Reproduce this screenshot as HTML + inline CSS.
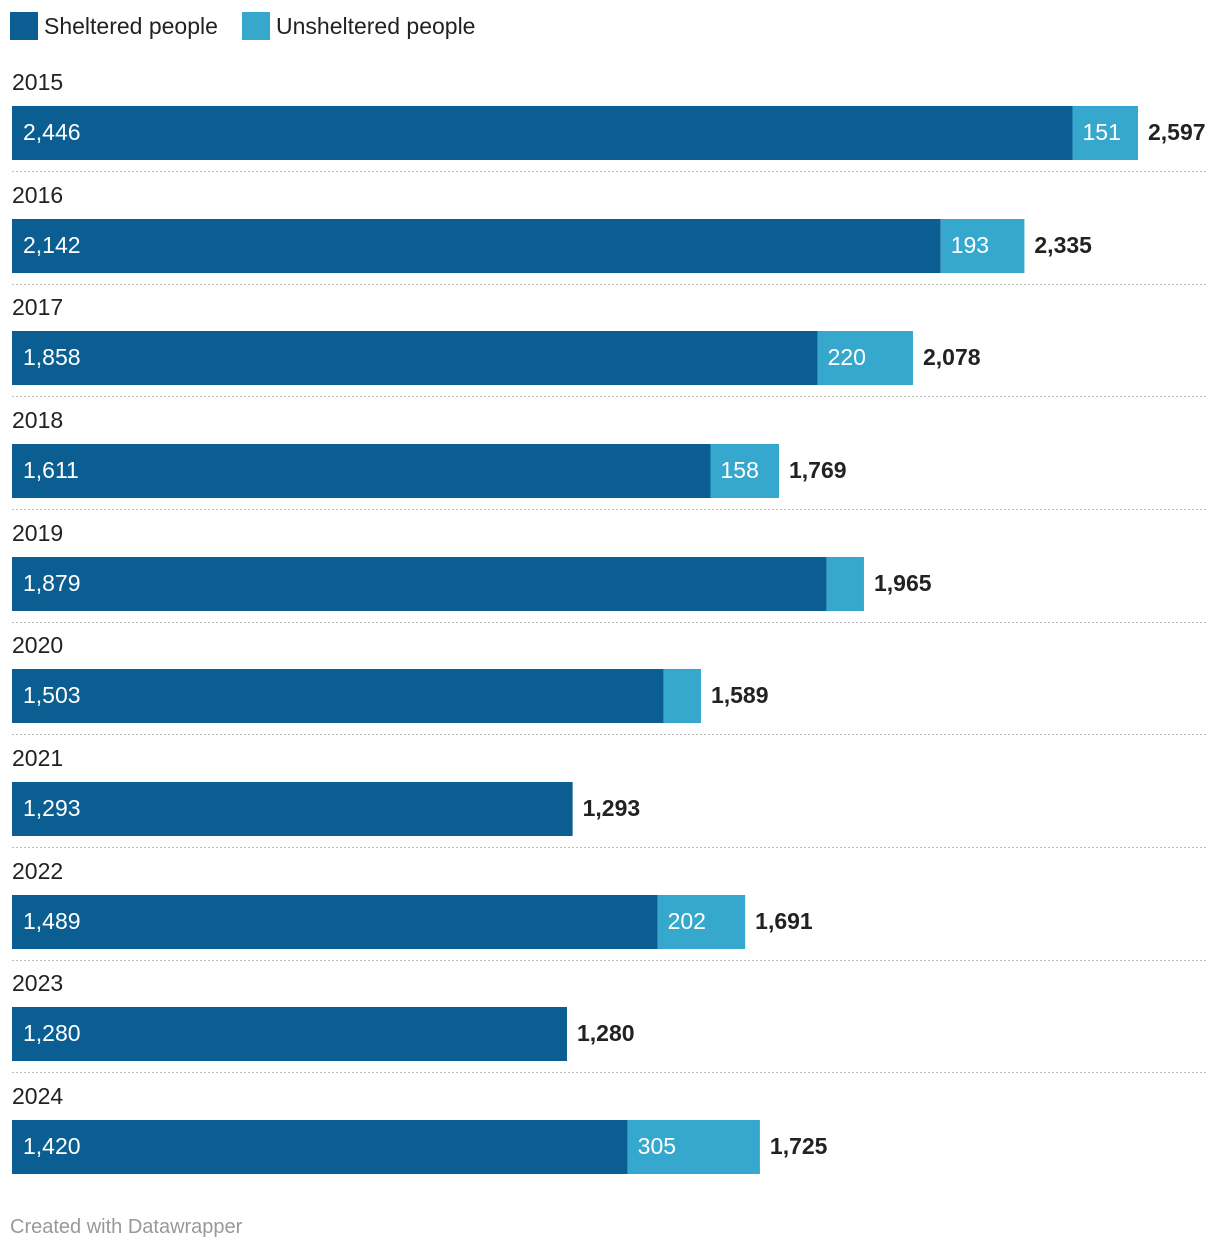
<!DOCTYPE html>
<html><head><meta charset="utf-8">
<style>
body{margin:0;background:#fff;font-family:"Liberation Sans",sans-serif;}
#wrap{position:relative;width:1220px;height:1252px;overflow:hidden;}
.leg{position:absolute;top:12px;display:flex;align-items:center;font-size:23px;color:#222;}
.sw{width:28px;height:28px;margin-right:6px;}
.foot{position:absolute;left:10px;top:1216px;font-size:20px;color:#999;}
</style></head>
<body>
<div id="wrap">
  <div class="leg" style="left:10px"><div class="sw" style="background:#0b5e91"></div>Sheltered people</div>
  <div class="leg" style="left:242px"><div class="sw" style="background:#36a8ce"></div>Unsheltered people</div>
  <svg id="svg" width="1220" height="1252" style="position:absolute;left:0;top:0"></svg>
  <div class="foot">Created with Datawrapper</div>
</div>
<script>
const years = ["2015","2016","2017","2018","2019","2020","2021","2022","2023","2024"];
const sheltered = [2446,2142,1858,1611,1879,1503,1293,1489,1280,1420];
const unsheltered = [151,193,220,158,86,86,0,202,0,305];
const totals = [2597,2335,2078,1769,1965,1589,1293,1691,1280,1725];

const NS="http://www.w3.org/2000/svg";
const svg=document.getElementById('svg');
const x0=12, scale=(1138-12)/2597;
const xs=v=>v*scale;
const rowTop=i=>Math.round(106+i*112.67);
function mk(t,a){const e=document.createElementNS(NS,t);for(const k in a)e.setAttribute(k,a[k]);svg.appendChild(e);return e;}
years.forEach((y,i)=>{
  const top=rowTop(i), h=54;
  const yl=mk('text',{x:12,y:top-16,'font-size':23,fill:'#222'});yl.textContent=y;
  
  
  const w1=xs(sheltered[i]);
  const b1=mk('rect',{x:x0,y:top,width:w1,height:h,fill:'#0b5e91'});
  
  
  const t1=mk('text',{x:x0+11,y:top+34,'font-size':23,fill:'#fff'});t1.textContent=sheltered[i].toLocaleString('en-US');
  
  
  const w2=xs(unsheltered[i]);
  if(w2>0){
    const b2=mk('rect',{x:x0+w1,y:top,width:w2,height:h,fill:'#36a8ce'});
    
    
    if(unsheltered[i]>=100){
      const t2=mk('text',{x:x0+w1+10,y:top+34,'font-size':23,fill:'#fff'});t2.textContent=unsheltered[i].toLocaleString('en-US');
      
      
    }
  }
  const tt=mk('text',{x:x0+w1+w2+10,y:top+34,'font-size':23,'font-weight':'bold',fill:'#222'});tt.textContent=totals[i].toLocaleString('en-US');
  
  
  if(i<years.length-1){
    const ln=mk('line',{x1:12,x2:1208,y1:top+h+11.5,y2:top+h+11.5,stroke:'#bbb','stroke-width':1,'stroke-dasharray':'2,2'});
    
    
  }
});
</script>
</body></html>
